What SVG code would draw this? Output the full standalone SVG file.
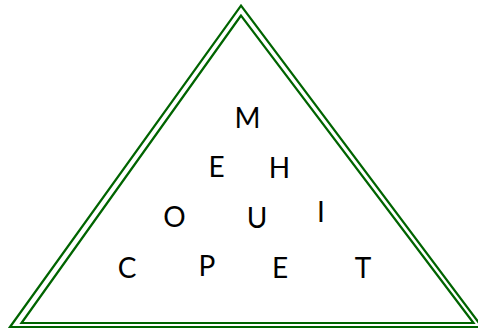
<svg xmlns="http://www.w3.org/2000/svg" width="478" height="329" viewBox="0 0 478 329">
<style>
.tri{fill:none;stroke:#006400;stroke-width:2.2}
.l{font-family:Lato,"Open Sans","DejaVu Sans",sans-serif;font-size:28px;fill:#000;text-anchor:middle}
</style>
<rect width="478" height="329" fill="#fff"/>
<g id="frame">
<polygon class="tri" points="241,5.7 10,327 482,327"/>
<polygon class="tri" points="241,15.5 21.5,323 473.5,323"/>
</g>
<g id="letters">
<text class="l" x="247.5" y="128">M</text>
<text class="l" x="216.5" y="177">E</text>
<text class="l" x="279.5" y="178">H</text>
<text class="l" x="174.5" y="227">O</text>
<text class="l" x="257" y="228">U</text>
<text class="l" x="321" y="221.5">I</text>
<text class="l" x="127" y="278">C</text>
<text class="l" x="207" y="276">P</text>
<text class="l" x="280" y="278">E</text>
<text class="l" x="363" y="278">T</text>
</g>
</svg>
